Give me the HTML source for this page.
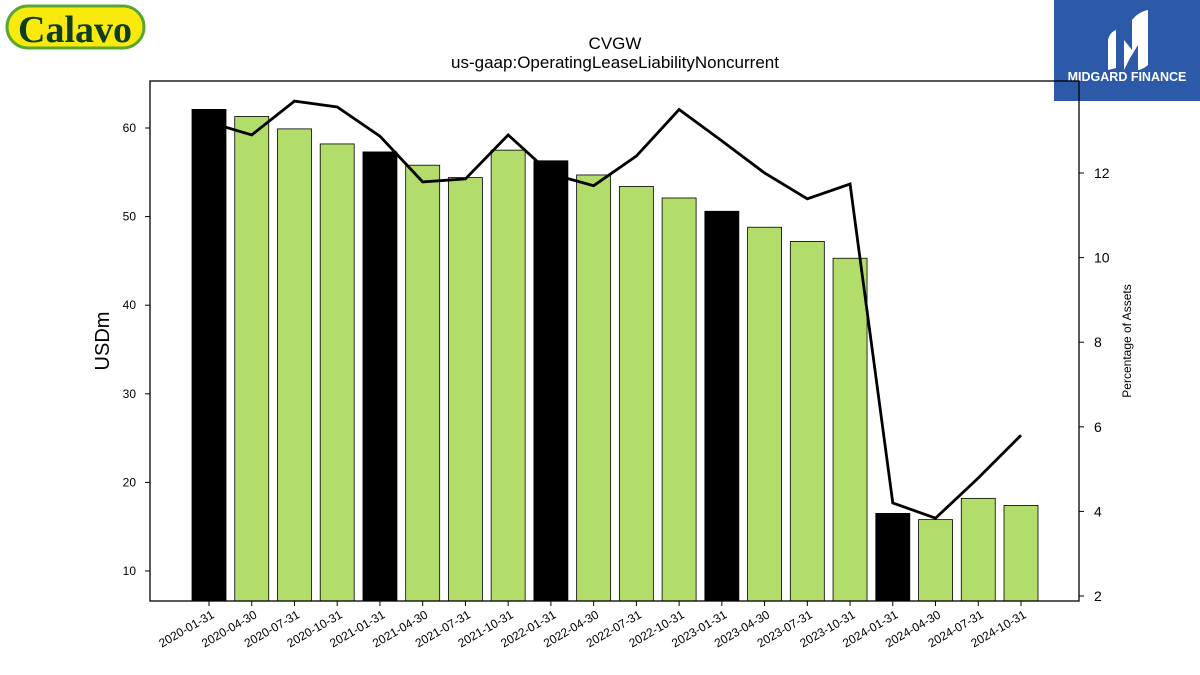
<!DOCTYPE html>
<html><head><meta charset="utf-8"><style>
body{margin:0;background:#fff;}
svg{display:block;font-family:"Liberation Sans","DejaVu Sans",sans-serif;}
</style></head><body>
<svg id="chart" width="1200" height="675" viewBox="0 0 1200 675">
  <g>
    <rect x="7" y="6" width="137" height="42" rx="21" fill="#f7ea0c" stroke="#5aa533" stroke-width="3"/>
    <text x="75" y="42" text-anchor="middle" font-family="Liberation Serif,serif" font-weight="bold" font-size="38" fill="#0f3d1e">Calavo</text>
  </g>
  <g>
    <rect x="1054" y="0" width="146" height="101" fill="#2c5aa8"/>
    <path d="M1108 70 L1108 40 Q1110 32 1116 30 L1116 68 Z M1124 70 L1124 40 L1132 50 L1132 20 Q1138 12 1148 10 L1148 65 Q1142 70 1138 70 L1138 45 L1130 58 Z" fill="#fff"/>
    <text x="1127" y="81" text-anchor="middle" font-weight="bold" font-size="12.5" fill="#fff">MIDGARD FINANCE</text>
  </g>
  <text x="615" y="49" text-anchor="middle" font-size="17">CVGW</text>
  <text x="615" y="68" text-anchor="middle" font-size="17">us-gaap:OperatingLeaseLiabilityNoncurrent</text>
  <g id="bars"></g>
  <g id="line"></g>
  <rect x="150" y="81" width="929" height="520" fill="none" stroke="#000" stroke-width="1.3"/>
  <g id="axes"></g>
  <text transform="translate(109,341) rotate(-90)" text-anchor="middle" font-size="20">USDm</text>
  <text transform="translate(1131,341) rotate(-90)" text-anchor="middle" font-size="12">Percentage of Assets</text>
</svg>
<script>
const categories=["2020-01-31","2020-04-30","2020-07-31","2020-10-31","2021-01-31","2021-04-30","2021-07-31","2021-10-31","2022-01-31","2022-04-30","2022-07-31","2022-10-31","2023-01-31","2023-04-30","2023-07-31","2023-10-31","2024-01-31","2024-04-30","2024-07-31","2024-10-31"];
const liabilityValues=[62.1,61.3,59.9,58.2,57.3,55.8,54.4,57.5,56.3,54.7,53.4,52.1,50.6,48.8,47.2,45.3,16.5,15.8,18.2,17.4];
const percentValues=[13.2,12.9,13.7,13.56,12.87,11.79,11.86,12.9,11.98,11.7,12.4,13.5,12.76,12.0,11.39,11.74,4.2,3.84,4.79,5.8];
const leftTicks=[10,20,30,40,50,60];
const rightTicks=[2,4,6,8,10,12];
const NS="http://www.w3.org/2000/svg";
const yL=v=>571-(v-10)*(443/50);
const yR=v=>596-(v-2)*(423/10);
const xC=i=>209+i*(812/19);
const bottom=601;
function mk(t,a,p){const e=document.createElementNS(NS,t);for(const k in a)e.setAttribute(k,a[k]);p.appendChild(e);return e;}
const bars=document.getElementById('bars'),line=document.getElementById('line'),axes=document.getElementById('axes');
categories.forEach((c,i)=>{
  const y=yL(liabilityValues[i]);
  const r=mk('rect',{x:xC(i)-17,y:y,width:34,height:bottom-y,fill:(i%4===0)?'#000':'#b3dd6b',stroke:'#000','stroke-width':0.8},bars);
  
  
  mk('line',{x1:xC(i),x2:xC(i),y1:bottom,y2:bottom+5,stroke:'#000'},axes);
  const t=mk('text',{transform:`translate(${xC(i)+6},${bottom+16}) rotate(-30)`,'text-anchor':'end','font-size':12},axes);
  t.textContent=c;
  
  
});
const pts=percentValues.map((v,i)=>xC(i)+','+yR(v)).join(' ');
const pl=mk('polyline',{points:pts,fill:'none',stroke:'#000','stroke-width':2.8},line);


leftTicks.forEach(v=>{
  mk('line',{x1:145,x2:150,y1:yL(v),y2:yL(v),stroke:'#000'},axes);
  const t=mk('text',{x:136,y:yL(v)+4,'text-anchor':'end','font-size':12},axes);
  t.textContent=v;
  
  
});
rightTicks.forEach(v=>{
  mk('line',{x1:1079,x2:1084,y1:yR(v),y2:yR(v),stroke:'#000'},axes);
  const t=mk('text',{x:1094,y:yR(v)+5,'font-size':14},axes);
  t.textContent=v;
  
  
});
</script>
</body></html>
